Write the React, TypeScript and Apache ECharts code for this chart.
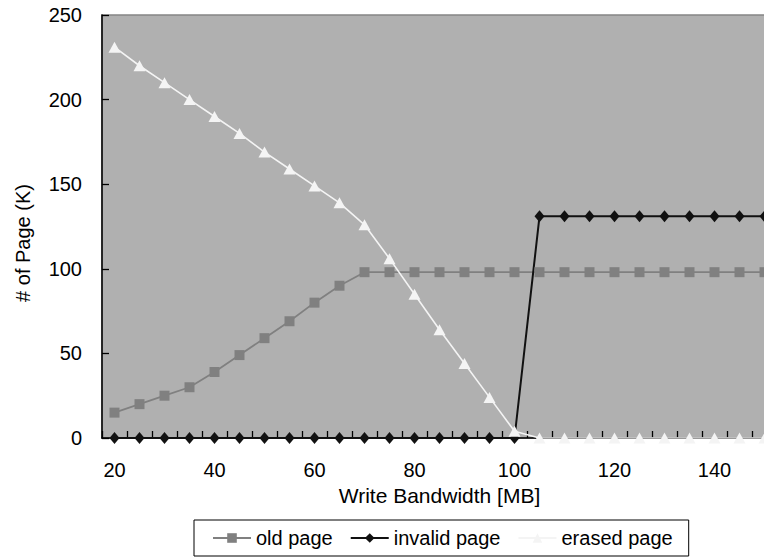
import React, { useEffect, useRef } from "react";
import * as echarts from "echarts";

const categories = [
  "20", "25", "30", "35", "40", "45", "50", "55", "60", "65", "70", "75", "80", "85",
  "90", "95", "100", "105", "110", "115", "120", "125", "130", "135", "140", "145", "150",
];
const oldPage = [
  15, 20, 25, 30, 39, 49, 59, 69, 80, 90, 98, 98, 98, 98,
  98, 98, 98, 98, 98, 98, 98, 98, 98, 98, 98, 98, 98,
];
const invalidPage = [
  0, 0, 0, 0, 0, 0, 0, 0, 0, 0, 0, 0, 0, 0,
  0, 0, 0, 131, 131, 131, 131, 131, 131, 131, 131, 131, 131,
];
const erasedPage = [
  231, 220, 210, 200, 190, 180, 169, 159, 149, 139, 126, 106, 85, 64,
  44, 24, 4, 0, 0, 0, 0, 0, 0, 0, 0, 0, 0,
];
const yTicks = { min: 0, max: 250, interval: 50 };

const FONT = "'Liberation Sans', Arial, sans-serif";

export default function App() {
  const ref = useRef<HTMLDivElement>(null);
  useEffect(() => {
    if (!ref.current) return;
    const chart = echarts.init(ref.current, null, { renderer: "svg" });
    chart.setOption({
      animation: false,
      textStyle: { fontFamily: FONT, color: "#000" },
      grid: {
        left: 102,
        top: 15,
        width: 675,
        height: 423,
        show: true,
        backgroundColor: "#b0b0b0",
        borderColor: "#858585",
        borderWidth: 1.5,
      },
      legend: {
        left: 194,
        top: 520,
        orient: "horizontal",
        borderColor: "#000",
        borderWidth: 1,
        padding: [8, 16, 8, 18],
        itemGap: 17,
        itemWidth: 38,
        itemHeight: 12,
        textStyle: { fontSize: 20, fontFamily: FONT, color: "#000" },
        data: ["old page", "invalid page", "erased page"],
      },
      xAxis: {
        type: "category",
        data: categories,
        boundaryGap: true,
        z: 3,
        name: "Write Bandwidth [MB]",
        nameLocation: "middle",
        nameGap: 47,
        nameTextStyle: { fontSize: 21, fontFamily: FONT, color: "#000" },
        axisLine: { lineStyle: { color: "#000", width: 1.5 } },
        axisTick: { show: true, inside: true, length: 7, interval: 0, lineStyle: { color: "#000", width: 1.3 } },
        axisLabel: { interval: 3, fontSize: 20, margin: 22, color: "#000", fontFamily: FONT },
        splitLine: { show: false },
      },
      yAxis: {
        type: "value",
        min: yTicks.min,
        max: yTicks.max,
        interval: yTicks.interval,
        axisLine: { show: true, lineStyle: { color: "#000", width: 1.5 } },
        axisTick: { show: true, inside: true, length: 7, lineStyle: { color: "#000", width: 1.3 } },
        axisLabel: { fontSize: 20, margin: 20, color: "#000", fontFamily: FONT },
        splitLine: { show: false },
      },
      graphic: [
        {
          type: "text",
          x: 23,
          y: 243,
          rotation: Math.PI / 2,
          style: {
            text: "# of Page (K)",
            fontSize: 20,
            fontFamily: FONT,
            fill: "#000",
            align: "center",
            verticalAlign: "middle",
          },
        },
      ],
      series: [
        {
          name: "old page",
          type: "line",
          data: oldPage,
          symbol: "rect",
          symbolSize: 10,
          itemStyle: { color: "#808080" },
          lineStyle: { color: "#808080", width: 1.8 },
        },
        {
          name: "invalid page",
          type: "line",
          data: invalidPage,
          symbol: "diamond",
          symbolSize: [10, 12],
          itemStyle: { color: "#111" },
          lineStyle: { color: "#111", width: 2 },
        },
        {
          name: "erased page",
          type: "line",
          data: erasedPage,
          symbol: "triangle",
          symbolSize: [12, 11],
          itemStyle: { color: "#f4f4f4" },
          lineStyle: { color: "#f4f4f4", width: 1.6 },
        },
      ],
    });
    return () => chart.dispose();
  }, []);
  return (
    <div
      style={{
        position: "fixed",
        left: 0,
        top: 0,
        width: 764,
        height: 560,
        overflow: "hidden",
        background: "#fff",
      }}
    >
      <div ref={ref} style={{ width: 790, height: 560 }} />
    </div>
  );
}
